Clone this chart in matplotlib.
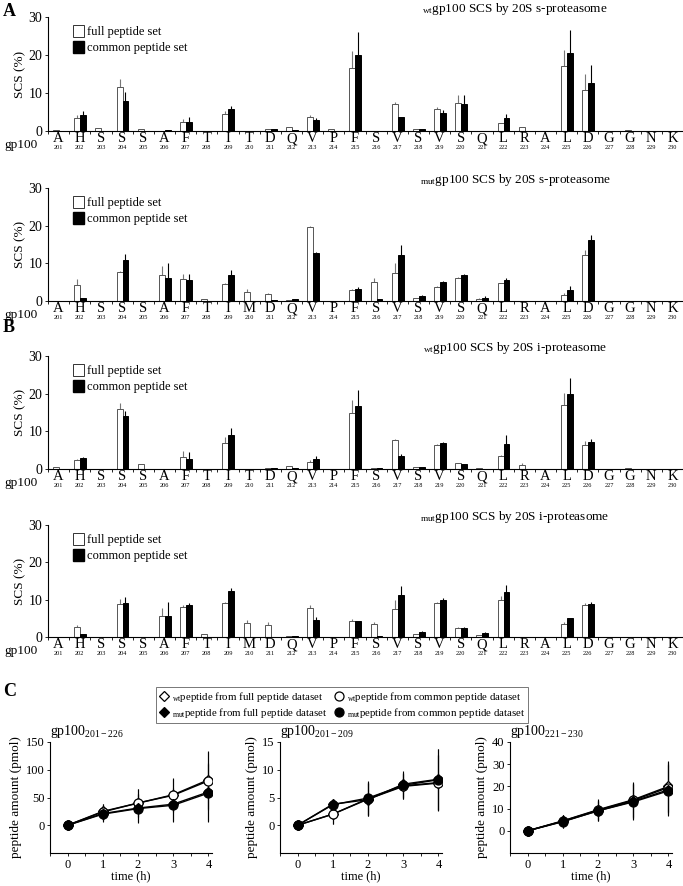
import matplotlib
matplotlib.use('Agg')
import matplotlib.pyplot as plt
import numpy as np
from matplotlib.lines import Line2D
from matplotlib.patches import Patch
import matplotlib.transforms as mtransforms

plt.rcParams['font.family'] = ['Liberation Serif', 'DejaVu Serif']
plt.rcParams['mathtext.fontset'] = 'custom'
plt.rcParams['mathtext.rm'] = 'Liberation Serif'
plt.rcParams['mathtext.it'] = 'Liberation Serif:italic'
plt.rcParams['mathtext.bf'] = 'Liberation Serif:bold'

# ---------------- data ----------------
positions = list(range(201, 231))
wt_residues = list("AHSSSAFTITDQVPFSVSVSQLRALDGGNK")
mut_residues = list("AHSSSAFTIMDQVPFSVSVSQLRALDGGNK")

# wt gp100, 20S s-proteasome
wt_s_full = [0.3, 3.3, 0.8, 11.5, 0.4, 0.1, 2.5, 0.1, 4.4, 0.1, 0.5, 1.1, 3.7, 0.5, 16.5,
             0.1, 7.2, 0.6, 5.7, 7.3, 0.1, 2.1, 1.1, 0, 17.0, 10.7, 0.1, 0.2, 0, 0]
wt_s_full_err = [0, 1.0, 0, 2.2, 0, 0, 0.6, 0, 0.8, 0, 0, 0, 0.5, 0, 4.5,
                 0, 0.5, 0, 0.6, 2.3, 0, 0, 0, 0, 4.4, 4.3, 0, 0, 0, 0]
wt_s_common = [0, 4.3, 0, 8.0, 0, 0.2, 2.4, 0, 5.7, 0, 0.5, 0.3, 3.0, 0, 20.0,
               0.1, 3.8, 0.6, 4.8, 7.2, 0.1, 3.5, 0, 0, 20.6, 12.6, 0, 0, 0, 0]
wt_s_common_err = [0, 1.0, 0, 2.3, 0, 0, 1.4, 0, 0.8, 0, 0, 0, 0.3, 0, 6.0,
                   0, 0, 0, 0.8, 2.3, 0, 1.1, 0, 0, 5.9, 4.7, 0, 0, 0, 0]

# mut gp100, 20S s-proteasome
mut_s_full = [0, 4.2, 0, 7.6, 0, 7.0, 5.8, 0.4, 4.6, 2.5, 1.8, 0.2, 19.6, 0, 2.9,
              5.1, 7.5, 0.8, 3.8, 6.1, 0.5, 4.7, 0.1, 0, 1.6, 12.2, 0, 0, 0, 0]
mut_s_full_err = [0, 1.7, 0, 0.3, 0, 2.4, 1.3, 0, 0.3, 0.6, 0.2, 0, 0.4, 0, 0.2,
                  1.0, 2.6, 0, 0.2, 0.2, 0.3, 0.2, 0, 0, 0.4, 1.4, 0, 0, 0, 0]
mut_s_common = [0, 0.8, 0, 11.0, 0, 6.0, 5.6, 0, 7.0, 0, 0.3, 0.6, 12.8, 0, 3.3,
                0.5, 12.3, 1.4, 5.0, 7.0, 0.8, 5.6, 0, 0, 3.0, 16.1, 0, 0, 0, 0]
mut_s_common_err = [0, 0, 0, 1.4, 0, 4.0, 1.6, 0, 1.2, 0, 0, 0, 0.3, 0, 0.4,
                    0, 2.7, 0.2, 0.4, 0.3, 0.4, 0.6, 0, 0, 1.1, 1.3, 0, 0, 0, 0]

# wt gp100, 20S i-proteasome
wt_i_full = [0.4, 2.3, 0, 15.8, 1.3, 0, 3.2, 0.1, 6.8, 0.1, 0.3, 0.9, 1.8, 0, 15.0,
             0.2, 7.6, 0.4, 6.5, 1.6, 0.2, 3.4, 1.0, 0, 17.1, 6.3, 0.1, 0.3, 0, 0]
wt_i_full_err = [0, 0.4, 0, 1.7, 0, 0, 1.5, 0, 1.6, 0, 0, 0, 0.5, 0, 3.3,
                 0, 0.4, 0, 0.2, 0, 0, 0.2, 0.6, 0, 3.0, 1.2, 0, 0, 0, 0]
wt_i_common = [0, 2.8, 0, 14.1, 0, 0, 2.7, 0, 9.0, 0, 0.3, 0.3, 2.6, 0, 16.8,
               0.2, 3.5, 0.5, 6.8, 1.3, 0.1, 6.7, 0, 0, 19.8, 7.1, 0, 0, 0, 0]
wt_i_common_err = [0, 0.4, 0, 1.2, 0, 0, 1.8, 0, 1.9, 0, 0, 0, 0.8, 0, 4.1,
                   0, 0.4, 0, 0.3, 0, 0, 2.2, 0, 0, 4.3, 0.9, 0, 0, 0, 0]

# mut gp100, 20S i-proteasome
mut_i_full = [0, 2.8, 0, 8.8, 0, 5.6, 8.0, 0.8, 9.0, 3.8, 3.2, 0.2, 7.8, 0, 4.4,
              3.4, 7.6, 0.8, 9.0, 2.5, 0.6, 9.8, 0, 0, 3.6, 8.6, 0, 0, 0, 0]
mut_i_full_err = [0, 0.4, 0, 1.5, 0, 2.2, 0.6, 0, 0.5, 0.7, 0.9, 0, 0.8, 0, 0.4,
                  0.7, 2.2, 0, 0.3, 0.3, 0, 1.2, 0, 0, 0.3, 0.5, 0, 0, 0, 0]
mut_i_common = [0, 0.8, 0, 9.2, 0, 5.6, 8.5, 0, 12.2, 0, 0, 0.3, 4.5, 0, 4.2,
                0.4, 11.2, 1.4, 10.0, 2.4, 1.0, 12.0, 0, 0, 5.2, 8.8, 0, 0, 0, 0]
mut_i_common_err = [0, 0, 0, 1.5, 0, 3.7, 0.6, 0, 1.0, 0, 0, 0, 0.8, 0, 0,
                    0, 2.4, 0.2, 0.4, 0.4, 0.3, 2.0, 0, 0, 0, 0.5, 0, 0, 0, 0]

# kinetics (panel C)
time_h = [0, 1, 2, 3, 4]
k1_wt_full = [0, 25, 40, 55, 82]
k1_wt_common = [0, 24, 40, 54, 80]
k1_mut_full = [0, 21, 31, 38, 60]
k1_mut_common = [0, 20, 30, 36, 58]
k1_err = [0, 14, 26, 30, 52]

k2_wt_full = [0, 2.0, 4.7, 7.0, 7.6]
k2_wt_common = [0, 2.0, 4.8, 7.1, 7.7]
k2_mut_full = [0, 3.8, 4.6, 7.4, 8.3]
k2_mut_common = [0, 3.7, 4.9, 7.2, 8.2]
k2_err_wt = [0, 1.8, 3.0, 2.3, 5.0]
k2_err_mut = [0, 0.8, 3.0, 2.3, 5.5]

k3_wt_full = [0, 4.5, 9.5, 14.0, 20.0]
k3_wt_common = [0, 4.4, 9.3, 13.7, 19.5]
k3_mut_full = [0, 4.2, 9.0, 13.3, 18.5]
k3_mut_common = [0, 4.1, 9.0, 13.0, 18.0]
k3_err = [0, 2.8, 4.6, 8.0, 11.5]

# ---------------- figure ----------------
W, H = 683, 886
fig = plt.figure(figsize=(W / 100, H / 100), dpi=100)


def rect_px(left, top, right, bottom):
    return [left / W, 1 - bottom / H, (right - left) / W, (bottom - top) / H]


def bar_panel(top, bottom, residues, full, full_err, common, common_err, title_sub, enzyme):
    ax = fig.add_axes(rect_px(48, top, 683, bottom))
    x = np.arange(len(residues))
    ax.bar(x - 0.12, full, width=0.28, color='white', edgecolor='#555555', linewidth=0.7, zorder=2)
    ax.bar(x + 0.16, common, width=0.28, color='black', edgecolor='black', linewidth=0.7, zorder=2)
    z = np.zeros(len(x))
    ax.errorbar(x - 0.12, full, yerr=[z, full_err], fmt='none', ecolor='#777777',
                elinewidth=0.8, capsize=0, zorder=1)
    ax.errorbar(x + 0.16, common, yerr=[z, common_err], fmt='none', ecolor='black',
                elinewidth=0.8, capsize=0, zorder=1)
    ax.set_xlim(-0.47, 29.4)
    ax.set_ylim(0, 30)
    for s in ['top', 'right']:
        ax.spines[s].set_visible(False)
    ax.spines['left'].set_linewidth(0.8)
    ax.spines['bottom'].set_linewidth(0.8)
    ax.set_yticks([0, 10, 20, 30])
    ax.tick_params(axis='y', labelsize=10, length=2, width=0.6, pad=2)
    ax.set_xticks(x)
    ax.set_xticklabels(residues, fontsize=10.5)
    ax.tick_params(axis='x', length=0, pad=1)
    ax.set_xticks(np.arange(len(x) + 1) - 0.5, minor=True)
    ax.tick_params(axis='x', which='minor', length=2.5, width=0.6, direction='out')
    ax.set_ylabel('SCS (%)', fontsize=9.5, labelpad=2)
    trans = mtransforms.blended_transform_factory(ax.transData, ax.transAxes)
    for i, p in enumerate(positions):
        ax.text(i, -0.125, str(p), transform=trans, ha='center', va='top', fontsize=4.5)
    fig.text(4 / W, 1 - (bottom + 14) / H, 'gp100', fontsize=9.5, ha='left', va='center')
    handles = [Patch(facecolor='white', edgecolor='#333333', linewidth=0.7),
               Patch(facecolor='black', edgecolor='black')]
    ax.legend(handles, ['full peptide set', 'common peptide set'], loc='upper left',
              bbox_to_anchor=(0.027, 1.0), frameon=False, fontsize=9,
              handlelength=0.9, handleheight=1.2, handletextpad=0.25, labelspacing=0.2,
              borderaxespad=0.2)
    fig.text(515 / W, 1 - (top - 8) / H,
             r'$_{\mathregular{' + title_sub + r'}}$gp100 SCS by 20S ' + enzyme,
             fontsize=9.5, ha='center', va='center')
    return ax


bar_panel(17, 131, wt_residues, wt_s_full, wt_s_full_err, wt_s_common, wt_s_common_err,
          'wt', 's-proteasome')
bar_panel(188, 301, mut_residues, mut_s_full, mut_s_full_err, mut_s_common, mut_s_common_err,
          'mut', 's-proteasome')
bar_panel(356, 469, wt_residues, wt_i_full, wt_i_full_err, wt_i_common, wt_i_common_err,
          'wt', 'i-proteasome')
bar_panel(525, 637, mut_residues, mut_i_full, mut_i_full_err, mut_i_common, mut_i_common_err,
          'mut', 'i-proteasome')

for letter, y in [('A', 11), ('B', 328), ('C', 692)]:
    fig.text(3 / W, 1 - y / H, letter, fontsize=13, fontweight='bold', ha='left', va='center')

# ---------------- kinetics ----------------
styles = [dict(marker='D', mfc='white', ms=5.5),
          dict(marker='o', mfc='white', ms=6.5),
          dict(marker='D', mfc='black', ms=5.5),
          dict(marker='o', mfc='black', ms=6.5)]


def kin_panel(left, series, errs, ylim, yticks, title_sub):
    ax = fig.add_axes(rect_px(left, 742, left + 162, 853))
    for s, e, st in zip(series, errs, styles):
        ax.errorbar(time_h, s, yerr=e, color='black', lw=1.0, elinewidth=0.8, capsize=0,
                    mec='black', mew=0.9, **st)
    ax.set_xlim(-0.45, 4.1)
    ax.set_ylim(*ylim)
    ax.set_yticks(yticks)
    ax.set_xticks(time_h)
    ax.set_xticks(np.arange(-0.5, 4.0, 1.0), minor=True)
    for s in ['top', 'right']:
        ax.spines[s].set_visible(False)
    ax.spines['left'].set_linewidth(0.8)
    ax.spines['bottom'].set_linewidth(0.8)
    ax.tick_params(labelsize=9, length=2.5, width=0.6, pad=1.5)
    ax.tick_params(axis='x', which='minor', length=2.5, width=0.6)
    ax.set_xlabel('time (h)', fontsize=9, labelpad=0)
    ax.set_ylabel('peptide amount (pmol)', fontsize=9.5, labelpad=3)
    ax.set_title(r'gp100$_{\mathregular{' + title_sub + r'}}$', loc='left', fontsize=10, pad=5)
    return ax


kin_panel(50, [k1_wt_full, k1_wt_common, k1_mut_full, k1_mut_common],
          [k1_err, k1_err, k1_err, k1_err], (-50, 150), [0, 50, 100, 150], '201-226')
kin_panel(280, [k2_wt_full, k2_wt_common, k2_mut_full, k2_mut_common],
          [k2_err_wt, k2_err_wt, k2_err_mut, k2_err_mut], (-5, 15), [0, 5, 10, 15], '201-209')
kin_panel(510, [k3_wt_full, k3_wt_common, k3_mut_full, k3_mut_common],
          [k3_err, k3_err, k3_err, k3_err], (-10, 40), [0, 10, 20, 30, 40], '221-230')

leg_handles = [Line2D([], [], ls='none', color='black', mec='black', mew=0.9, **styles[0]),
               Line2D([], [], ls='none', color='black', mec='black', mew=0.9, **styles[2]),
               Line2D([], [], ls='none', color='black', mec='black', mew=0.9, **styles[1]),
               Line2D([], [], ls='none', color='black', mec='black', mew=0.9, **styles[3])]
leg_labels = [r'$_{\mathregular{wt}}$peptide from full peptide dataset',
              r'$_{\mathregular{mut}}$peptide from full peptide dataset',
              r'$_{\mathregular{wt}}$peptide from common peptide dataset',
              r'$_{\mathregular{mut}}$peptide from common peptide dataset']
leg = fig.legend(leg_handles, leg_labels, ncol=2, loc='center',
                 bbox_to_anchor=(342 / W, 1 - 705 / H), fontsize=7.8, frameon=True,
                 fancybox=False, edgecolor='#555555', handlelength=1.0, handletextpad=0.2,
                 columnspacing=0.6, labelspacing=0.2, borderpad=0.3)
leg.get_frame().set_linewidth(0.7)

fig.savefig('out.png', dpi=100)
